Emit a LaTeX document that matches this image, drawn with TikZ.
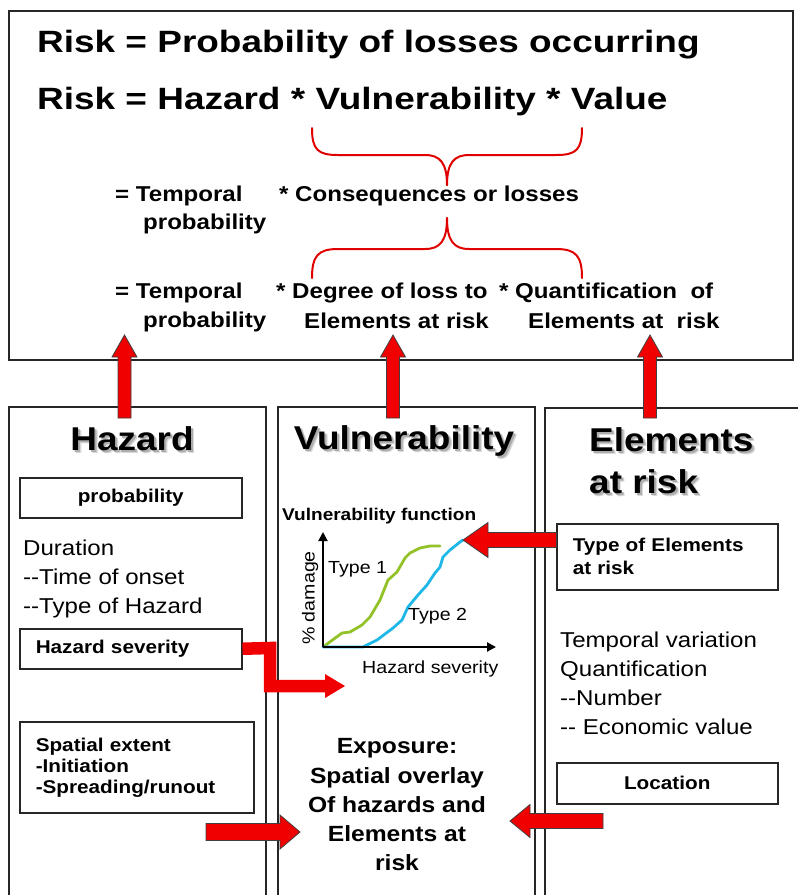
\documentclass[tikz,border=0pt]{standalone}
\usepackage{fontspec}
\setmainfont{Liberation Sans}[FakeStretch=1.12]
\newfontfamily\widefont{Liberation Sans}[FakeStretch=1.2]
\usetikzlibrary{arrows.meta,calc}
\definecolor{arrred}{RGB}{240,0,0}
\definecolor{brred}{RGB}{225,0,0}
\definecolor{grn}{RGB}{146,194,40}
\definecolor{cyn}{RGB}{30,184,232}
\newcommand{\fsz}[2]{\fontsize{#1}{#2}\selectfont}
% block arrow: [style]{start}{end}{half shaft}{half head}{head length}
\newcommand{\blockarr}[6][]{%
  \coordinate (ba-c) at ($(#3)!#6!(#2)$);
  \filldraw[#1] ($(#2)!#4!90:(#3)$) -- ($(ba-c)!#4!90:(#3)$) -- ($(ba-c)!#5!90:(#3)$) -- (#3)
    -- ($(ba-c)!#5!-90:(#3)$) -- ($(ba-c)!#4!-90:(#3)$) -- ($(#2)!#4!-90:(#3)$) -- cycle;}
% title with soft shadow: {name}{anchor}{x,y}{text}
\newcommand{\ttltext}[4]{%
  \node[ttlf, anchor=#2, text=black!15] at ($(#3)+(3.2,3.2)$) {#4};
  \node[ttlf, anchor=#2, text=black!32] at ($(#3)+(2,2)$) {#4};
  \node[ttlf, anchor=#2] (#1) at (#3) {#4};}
\begin{document}
\begin{tikzpicture}[x=1pt,y=-1pt,line join=miter,
  frame/.style={draw=black!85, line width=1.6pt, inner sep=0pt},
  box/.style={draw=black!85, line width=1.5pt, inner sep=0pt, font=\bfseries\fsz{18.5}{23}},
  lt/.style={inner sep=0pt, anchor=base west},
  big/.style={font=\widefont\bfseries\fsz{30.8}{36}},
  mid/.style={font=\bfseries\fsz{21.5}{25}},
  reg/.style={font=\fsz{21.5}{25}},
  ttlf/.style={inner sep=0pt, font=\bfseries\fsz{33}{36}},
  outl/.style={fill=arrred, draw=black!75, line width=0.8pt},
  brace/.style={draw=brred, line width=2pt, line cap=round},
  axis/.style={draw=black, line width=2pt, -{Triangle[length=9pt,width=9pt]}},
  crv/.style={line width=2.8pt, line join=round, line cap=round},
  gtxt/.style={inner sep=0pt, font=\fsz{17.5}{20}}]
\useasboundingbox (0,0) rectangle (798,895);
\fill[white] (0,0) rectangle (798,895);

% ---------- top box ----------
\node[frame, anchor=north west, minimum width=784pt, minimum height=349pt] (top) at (8,10) {};
\node[lt, big] (l1) at (37,52) {Risk = Probability of losses occurring};
\node[lt, big] (l2) at (37,109) {Risk = Hazard * Vulnerability * Value};

\node[lt, mid] (r1a) at (115,201) {= Temporal};
\node[lt, mid] (r1b) at (143,229) {probability};
\node[lt, mid] (r1c) at (279,201) {* Consequences or losses};

\node[lt, mid] (r2a) at (115,298) {= Temporal};
\node[lt, mid] (r2b) at (143,327) {probability};
\node[lt, mid] (r2c) at (276,298) {* Degree of loss to};
\node[lt, mid] (r2d) at (304,328) {Elements at risk};
\node[lt, mid] (r2e) at (499,298) {* Quantification\ \ of};
\node[lt, mid] (r2f) at (528,328) {Elements at\ \ risk};

% braces
\draw[brace] (312,128) .. controls (312,150) and (318,155) .. (338,155) -- (425,155)
  .. controls (440,155) and (447,163) .. (447,185);
\draw[brace] (582,128) .. controls (582,150) and (576,155) .. (556,155) -- (469,155)
  .. controls (454,155) and (447,163) .. (447,185);
\draw[brace] (312,278) .. controls (312,256) and (318,249) .. (338,249) -- (425,249)
  .. controls (440,249) and (447,241) .. (447,218);
\draw[brace] (582,278) .. controls (582,256) and (576,249) .. (556,249) -- (469,249)
  .. controls (454,249) and (447,241) .. (447,218);

% ---------- columns ----------
\node[frame, anchor=north west, minimum width=257pt, minimum height=520pt] (colH) at (8,406) {};
\node[frame, anchor=north west, minimum width=257pt, minimum height=520pt] (colV) at (277,406) {};
\node[frame, anchor=north west, minimum width=280pt, minimum height=520pt] (colE) at (544,407) {};

\ttltext{tH}{base}{132,450}{Hazard}
\ttltext{tV}{base}{404,449}{Vulnerability}
\ttltext{tE1}{base west}{589,451}{Elements}
\ttltext{tE2}{base west}{589,493}{at risk}

% ---------- Hazard column ----------
\node[box, anchor=north west, minimum width=222pt, minimum height=40pt] (prob) at (19,477) {probability};
\node[lt, reg] (d1) at (23,555) {Duration};
\node[lt, reg] (d2) at (23,584) {-{}-Time of onset};
\node[lt, reg] (d3) at (23,613) {-{}-Type of Hazard};
\node[box, anchor=north west, minimum width=222pt, minimum height=40pt, text width=190pt,
      inner xsep=16pt, align=left] (hsev) at (19,628) {Hazard severity};
\node[box, anchor=north west, minimum width=234pt, minimum height=91pt, text width=202pt,
      inner xsep=16pt, align=left, font=\bfseries\fsz{18.5}{21}] (spat) at (19,721)
      {Spatial extent\\-Initiation\\-Spreading/runout};

% ---------- Elements column ----------
\node[box, anchor=north west, minimum width=221pt, minimum height=66pt, text width=189pt,
      inner xsep=16pt, align=left] (tyE) at (556,523) {Type of Elements\\at risk};
\node[lt, reg] (q1) at (560,647) {Temporal variation};
\node[lt, reg] (q2) at (560,676) {Quantification};
\node[lt, reg] (q3) at (560,705) {-{}-Number};
\node[lt, reg] (q4) at (560,734) {-{}- Economic value};
\node[box, anchor=north west, minimum width=221pt, minimum height=41pt] (loc) at (556,762) {Location};

% ---------- Vulnerability column ----------
\node[lt, inner sep=0pt, font=\bfseries\fsz{17}{20}] (vf) at (282,520) {Vulnerability function};
\coordinate (org) at (323,647);
\draw[crv, grn] (org) -- (342,633) -- (350,632) -- (362,625) -- (370,617) -- (380,600) -- (388,580)
  -- (397,572) -- (405,558) -- (410,553) -- (420,548) -- (430,546) -- (440,546);
\draw[crv, cyn] (org) -- (363,647) -- (377,640) -- (393,628) -- (402,620) -- (408,607) -- (418,595)
  -- (427,585) -- (435,573) -- (440,567) -- (443,557) -- (450,550) -- (460,542) -- (463,540);
\coordinate (ytop) at (323,532);
\coordinate (xend) at (496,647);
\draw[axis] (org) -- (ytop);
\draw[axis] (org) -- (xend);
\node[gtxt, rotate=90] (yl) at (310,598) {\% damage};
\node[lt, gtxt] (ty1) at (328,573) {Type 1};
\node[lt, gtxt] (ty2) at (408,620) {Type 2};
\node[lt, gtxt] (xl) at (362,673) {Hazard severity};

\node[inner sep=0pt, font=\bfseries\fsz{22}{29}, anchor=base] (e1) at (397,753) {Exposure:};
\node[inner sep=0pt, font=\bfseries\fsz{22}{29}, anchor=base] (e2) at (397,783) {Spatial overlay};
\node[inner sep=0pt, font=\bfseries\fsz{22}{29}, anchor=base] (e3) at (397,812) {Of hazards and};
\node[inner sep=0pt, font=\bfseries\fsz{22}{29}, anchor=base] (e4) at (397,841) {Elements at};
\node[inner sep=0pt, font=\bfseries\fsz{22}{29}, anchor=base] (e5) at (397,870) {risk};

% ---------- arrows ----------
\coordinate (a1s) at (124.5,418); \coordinate (a1t) at (124.5,335);
\coordinate (a2s) at (393,418);   \coordinate (a2t) at (393,335);
\coordinate (a3s) at (650,418);   \coordinate (a3t) at (650,335);
\blockarr[outl]{a1s}{a1t}{6.5pt}{12.5pt}{22pt}
\blockarr[outl]{a2s}{a2t}{6.5pt}{12.5pt}{22pt}
\blockarr[outl]{a3s}{a3t}{6.5pt}{12.5pt}{22pt}

\coordinate (tys) at (556.5,540); \coordinate (tyt) at (463,540);
\blockarr[outl]{tys}{tyt}{7.5pt}{17.5pt}{25pt}

\coordinate (elbt) at (345,686);
\draw[arrred, line width=12.5pt] (hsev.east) -- (270,648) -- (270,686) -- (327,686);
\fill[arrred] (325,674) -- (elbt) -- (325,698) -- cycle;

\coordinate (bls) at (206,832); \coordinate (blt) at (300,832);
\blockarr[outl]{bls}{blt}{8.5pt}{17pt}{20pt}
\coordinate (brs) at (603,821); \coordinate (brt) at (510,821);
\blockarr[outl]{brs}{brt}{7.5pt}{16.5pt}{20pt}
\end{tikzpicture}
\end{document}
